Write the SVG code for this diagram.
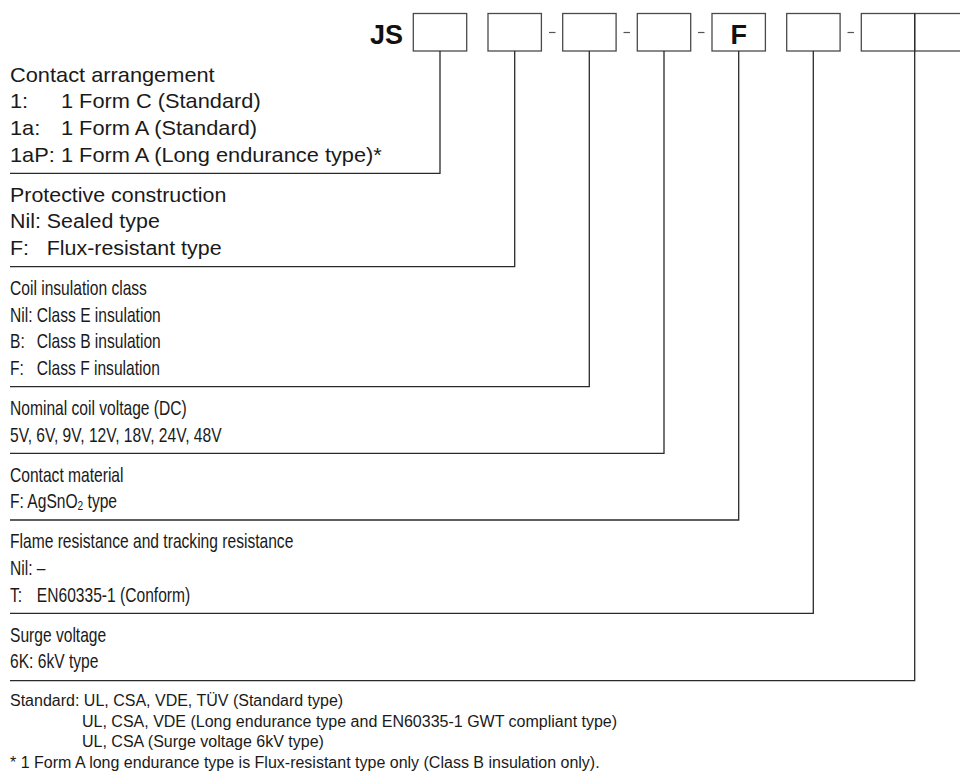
<svg xmlns="http://www.w3.org/2000/svg" width="960" height="773" viewBox="0 0 960 773">
<style>
  .t { font-family: "Liberation Sans", Arial, Helvetica, sans-serif; font-size: 20px; fill: #1a1a1a; }
  .f { font-family: "Liberation Sans", Arial, Helvetica, sans-serif; font-size: 16px; fill: #1a1a1a; }
  .b { font-family: "Liberation Sans", Arial, Helvetica, sans-serif; font-size: 27px; font-weight: bold; fill: #111; }
  .box { fill: #fff; stroke: #4a4a4a; stroke-width: 1.3; }
  .dash { stroke: #555; stroke-width: 1.2; }
  .conn { fill: none; stroke: #2a2a2a; stroke-width: 1.3; }
</style>
<rect width="960" height="773" fill="#fff"/>

<g id="code">
  <text class="b" x="403" y="43.5" text-anchor="end">JS</text>
  <g id="box-1"><rect class="box" x="413.3" y="13.5" width="53.4" height="37.5"/></g>
  <g id="box-2"><rect class="box" x="488" y="13.5" width="53.4" height="37.5"/></g>
  <g id="box-3"><rect class="box" x="562.7" y="13.5" width="53.4" height="37.5"/></g>
  <g id="box-4"><rect class="box" x="637.3" y="13.5" width="53.4" height="37.5"/></g>
  <g id="box-5"><rect class="box" x="712" y="13.5" width="53.4" height="37.5"/><text class="b" x="738.7" y="43.5" text-anchor="middle">F</text></g>
  <g id="box-6"><rect class="box" x="786.7" y="13.5" width="53.4" height="37.5"/></g>
  <g id="box-7"><rect class="box" x="861.3" y="13.5" width="53.4" height="37.5"/></g>
  <g id="box-8"><rect class="box" x="914.7" y="13.5" width="60" height="37.5"/></g>
  <line class="dash" x1="549" y1="32.5" x2="555.5" y2="32.5"/>
  <line class="dash" x1="623.5" y1="32.5" x2="630" y2="32.5"/>
  <line class="dash" x1="698" y1="32.5" x2="704.5" y2="32.5"/>
  <line class="dash" x1="847.5" y1="32.5" x2="854" y2="32.5"/>
</g>

<g id="connectors">
  <path class="conn" d="M440,51 V173.3 H10"/>
  <path class="conn" d="M514.7,51 V266.7 H10"/>
  <path class="conn" d="M589.3,51 V386.7 H10"/>
  <path class="conn" d="M664,51 V453.3 H10"/>
  <path class="conn" d="M738.7,51 V520 H10"/>
  <path class="conn" d="M813.3,51 V613.3 H10"/>
  <path class="conn" d="M914.7,13.5 V680.7 H10"/>
</g>

<g id="sec-contact-arrangement" transform="translate(10,0) scale(1.09,1)">
  <text class="t" x="0" y="81.6">Contact arrangement</text>
  <text class="t" y="108.3"><tspan x="0">1:</tspan><tspan x="46.7">1 Form C (Standard)</tspan></text>
  <text class="t" y="135"><tspan x="0">1a:</tspan><tspan x="46.7">1 Form A (Standard)</tspan></text>
  <text class="t" y="161.7"><tspan x="0">1aP:</tspan><tspan x="46.7">1 Form A (Long endurance type)*</tspan></text>
</g>

<g id="sec-protective-construction" transform="translate(10,0) scale(1.07,1)">
  <text class="t" x="0" y="201.6">Protective construction</text>
  <text class="t" y="228.3"><tspan x="0">Nil:</tspan><tspan x="34.4">Sealed type</tspan></text>
  <text class="t" y="255"><tspan x="0">F:</tspan><tspan x="34.4">Flux-resistant type</tspan></text>
</g>

<g id="sec-coil-insulation" transform="translate(10,0) scale(0.78,1)">
  <text class="t" x="0" y="295">Coil insulation class</text>
  <text class="t" y="321.7"><tspan x="0">Nil:</tspan><tspan x="34.4">Class E insulation</tspan></text>
  <text class="t" y="348.3"><tspan x="0">B:</tspan><tspan x="34.4">Class B insulation</tspan></text>
  <text class="t" y="375"><tspan x="0">F:</tspan><tspan x="34.4">Class F insulation</tspan></text>
</g>

<g id="sec-nominal-voltage" transform="translate(10,0) scale(0.78,1)">
  <text class="t" x="0" y="415">Nominal coil voltage (DC)</text>
  <text class="t" x="0" y="441.7">5V, 6V, 9V, 12V, 18V, 24V, 48V</text>
</g>

<g id="sec-contact-material" transform="translate(10,0) scale(0.78,1)">
  <text class="t" x="0" y="481.6">Contact material</text>
  <text class="t" x="0" y="508.3">F: AgSnO<tspan font-size="13" dy="1.5">2</tspan><tspan dy="-1.5"> type</tspan></text>
</g>

<g id="sec-flame-tracking" transform="translate(10,0) scale(0.78,1)">
  <text class="t" x="0" y="548.3">Flame resistance and tracking resistance</text>
  <text class="t" y="575"><tspan x="0">Nil:</tspan><tspan x="34.4">–</tspan></text>
  <text class="t" y="601.7"><tspan x="0">T:</tspan><tspan x="34.4">EN60335-1 (Conform)</tspan></text>
</g>

<g id="sec-surge-voltage" transform="translate(10,0) scale(0.78,1)">
  <text class="t" x="0" y="641.6">Surge voltage</text>
  <text class="t" x="0" y="668.3">6K: 6kV type</text>
</g>

<g id="footer">
  <text class="f" x="10" y="706">Standard: UL, CSA, VDE, TÜV (Standard type)</text>
  <text class="f" x="82" y="726.5">UL, CSA, VDE (Long endurance type and EN60335-1 GWT compliant type)</text>
  <text class="f" x="82" y="747">UL, CSA (Surge voltage 6kV type)</text>
  <text class="f" x="10" y="767.5">* 1 Form A long endurance type is Flux-resistant type only (Class B insulation only).</text>
</g>
</svg>
